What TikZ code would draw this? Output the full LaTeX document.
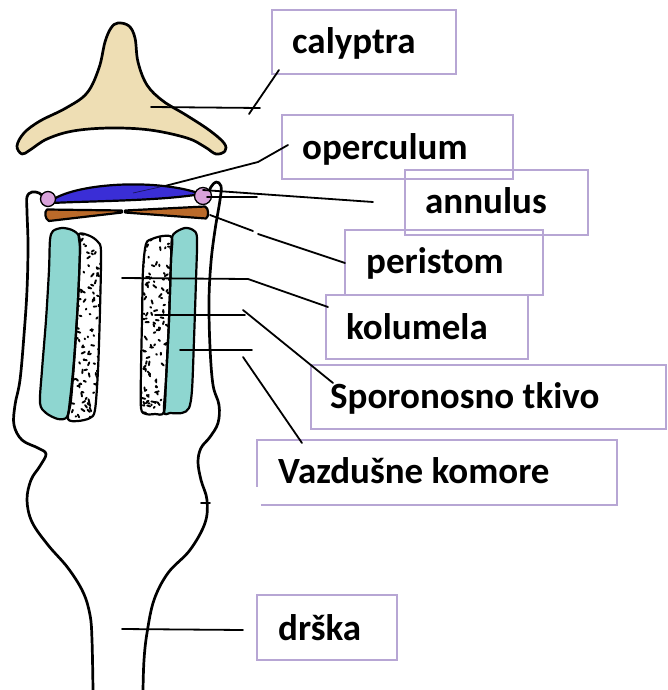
\documentclass[tikz,border=0pt]{standalone}
\usepackage{fontspec}
\newfontfamily\lblfont{Carlito}
\definecolor{capbeige}{RGB}{238,222,180}
\definecolor{opblue}{RGB}{58,46,214}
\definecolor{knob}{RGB}{216,162,218}
\definecolor{peribrown}{RGB}{186,106,42}
\definecolor{tealc}{RGB}{142,214,208}
\definecolor{boxlilac}{RGB}{183,166,212}
\begin{document}
\begin{tikzpicture}[x=1pt,y=-1pt,
  outline/.style={line width=2.7pt, line join=round, line cap=round},
  partline/.style={line width=2.2pt, line join=round, line cap=round},
  lead/.style={line width=1.8pt, line cap=round},
  lbox/.style={draw=boxlilac, line width=1.9pt, rectangle, inner sep=0pt},
  lbl/.style={font=\lblfont\bfseries\fontsize{37}{42}\selectfont, anchor=base west, inner sep=0pt},
  speck/.style={line width=1.9pt, line cap=round}]
\useasboundingbox (0,0) rectangle (667,690);

% calyptra
\draw[outline, fill=capbeige] plot[smooth cycle, tension=0.6] coordinates {(118,23) (129,26) (135,38) (138,62) (147,85) (163,101) (186,115) (209,130) (224,143) (225,151) (216,154) (205,147) (187,138) (150,130) (110,128) (73,131) (47,139) (30,150) (22,154) (17,146) (24,133) (40,121) (66,108) (87,93) (99,68) (105,42) (111,28)};

% capsule and seta walls
\draw[outline] plot[smooth, tension=0.6] coordinates {(44,197) (39,193) (32,192) (27,197) (27,212) (28,245) (27,290) (24,335) (20,380) (15,405) (14,425) (22,440) (38,448) (46,454) (40,466) (31,480) (27,500) (32,522) (48,545) (68,568) (83,592) (90,615) (92,640) (93,690)};
\draw[outline] plot[smooth, tension=0.6] coordinates {(207,196) (211,187) (216,182) (221,186) (220,200) (215,230) (211,262) (209,300) (210,347) (213,385) (219,405) (218,423) (210,437) (201,448) (198,462) (201,480) (207,500) (205,523) (190,550) (168,573) (154,600) (147,633) (144,660) (143,690)};
\draw[lead] (201,503) -- (210,503);

% operculum
\draw[partline, fill=opblue] (52,200) .. controls (80,182) and (160,179) .. (201,194) .. controls (160,201) and (90,201) .. (52,203) -- cycle;
\draw[line width=0.7pt, black!60!opblue] (133,193) -- (160,187);

% annulus
\draw[line width=1.3pt, fill=knob] (48,199) circle[radius=7.5pt];
\draw[line width=1.3pt, fill=knob] (203,196) circle[radius=8.5pt];

% peristome teeth
\draw[partline, fill=peribrown] (47,209.5) -- (122,210.5) -- (122,212.5) -- (49,221) .. controls (45,219) and (44,212) .. (47,209.5) -- cycle;
\draw[partline, fill=peribrown] (125,210.5) -- (205,206.5) .. controls (209,208) and (209,217) .. (206,218.5) -- (125,212.5) -- cycle;

% spore sacs and air chambers
\newcommand\tealLeft{plot[smooth cycle, tension=0.5] coordinates {(53,231) (62,228) (72,230) (79,236) (80,250) (78,300) (74,360) (70,400) (67,417) (58,419) (46,413) (40,403) (42,370) (46,320) (49,270) (50,240)}}
\newcommand\stipLeft{plot[smooth cycle, tension=0.5] coordinates {(79,234) (90,236) (98,242) (101,252) (100,310) (98,370) (95,410) (90,418) (78,421) (68,419) (71,400) (75,350) (78,300) (80,250)}}
\newcommand\stipRight{plot[smooth cycle, tension=0.5] coordinates {(146,244) (152,239) (163,236) (172,238) (171,260) (169,320) (166,380) (164,412) (155,414) (146,414) (141,408) (141,370) (142,320) (143,270)}}
\newcommand\tealRight{plot[smooth cycle, tension=0.5] coordinates {(172,238) (176,232) (185,228) (193,230) (197,238) (196,280) (194,340) (192,390) (189,408) (182,413) (170,413) (164,412) (166,380) (169,320) (171,260)}}

\fill[tealc] \tealLeft;
\fill[tealc] \tealRight;
\fill[white] \stipLeft;
\fill[white] \stipRight;
\pgfmathsetseed{4242}
\begin{scope}
  \clip \stipLeft;
  \foreach \i in {1,...,150}{
    \pgfmathsetmacro\px{68+33*rnd}
    \pgfmathsetmacro\py{234+187*rnd}
    \pgfmathsetmacro\pa{360*rnd}
    \pgfmathsetmacro\pl{0.8+3.2*rnd}
    \draw[speck] (\px,\py) -- ++(\pa:\pl);
  }
\end{scope}
\begin{scope}
  \clip \stipRight;
  \foreach \i in {1,...,140}{
    \pgfmathsetmacro\px{140+33*rnd}
    \pgfmathsetmacro\py{236+180*rnd}
    \pgfmathsetmacro\pa{360*rnd}
    \pgfmathsetmacro\pl{0.8+3.2*rnd}
    \draw[speck] (\px,\py) -- ++(\pa:\pl);
  }
\end{scope}
\draw[partline] \tealLeft;
\draw[partline] \tealRight;
\draw[partline] \stipLeft;
\draw[partline] \stipRight;

% label boxes
\node[lbox, minimum width=184pt, minimum height=64pt] (bcal) at (364,42) {};
\node[lbox, minimum width=231pt, minimum height=64pt] (bope) at (397.5,147) {};
\node[lbox, minimum width=183pt, minimum height=65pt] (bann) at (496.5,202.5) {};
\node[lbox, minimum width=198pt, minimum height=65pt] (bper) at (444,262.5) {};
\node[lbox, minimum width=202pt, minimum height=64pt] (bkol) at (427,327) {};
\node[lbox, minimum width=355pt, minimum height=64pt] (bspo) at (488.5,397) {};
\node[rectangle, inner sep=0pt, minimum width=360pt, minimum height=65pt] (bvaz) at (437,472.5) {};
\draw[draw=boxlilac, line width=1.9pt] ([xshift=4pt]bvaz.south west) -- (bvaz.south east) -- (bvaz.north east) -- (bvaz.north west) -- ([yshift=18pt]bvaz.south west);
\node[lbox, minimum width=140pt, minimum height=65pt] (bdrs) at (327,627.5) {};

% labels
\node[lbl] (tcal) at (292,54) {calyptra};
\node[lbl] (tope) at (302,159) {operculum};
\node[lbl] (tann) at (425,213) {annulus};
\node[lbl] (tper) at (366,273) {peristom};
\node[lbl] (tkol) at (346,339) {kolumela};
\node[lbl] (tspo) at (330,408) {Sporonosno tkivo};
\node[lbl] (tvaz) at (278,483) {Vazdušne komore};
\node[lbl] (tdrs) at (278,640) {drška};

% leader lines
\coordinate (cal1) at (151,107); \coordinate (cal2) at (260,108);
\coordinate (cal3) at (279,70);  \coordinate (cal4) at (249,114);
\draw[lead] (cal1) -- (cal2);
\draw[lead] (cal3) -- (cal4);

\coordinate (ope1) at (288,145); \coordinate (ope2) at (258,162); \coordinate (ope3) at (165,186);
\draw[lead] (ope1) -- (ope2) -- (ope3);

\coordinate (ann1) at (203,190); \coordinate (ann2) at (373,202);
\coordinate (ann3) at (207,197); \coordinate (ann4) at (257,197);
\draw[lead] (ann1) -- (ann2);
\draw[lead] (ann3) -- (ann4);

\coordinate (per1) at (210,215); \coordinate (per2) at (253,231);
\coordinate (per3) at (258,234); \coordinate (per4) at (345,263);
\draw[lead] (per1) -- (per2);
\draw[lead] (per3) -- (per4);

\coordinate (kol1) at (122,278); \coordinate (kol2) at (248,279); \coordinate (kol3) at (328,307);
\draw[lead] (kol1) -- (kol2) -- (kol3);

\coordinate (spo1) at (155,315); \coordinate (spo2) at (245,315);
\coordinate (spo3) at (243,310); \coordinate (spo4) at (333,383);
\draw[lead] (spo1) -- (spo2);
\draw[lead] (spo3) -- (spo4);

\coordinate (vaz1) at (180,350); \coordinate (vaz2) at (252,350);
\coordinate (vaz3) at (243,357); \coordinate (vaz4) at (302,443);
\draw[lead] (vaz1) -- (vaz2);
\draw[lead] (vaz3) -- (vaz4);

\coordinate (drs1) at (122,629); \coordinate (drs2) at (243,630);
\draw[lead] (drs1) -- (drs2);
\end{tikzpicture}
\end{document}
